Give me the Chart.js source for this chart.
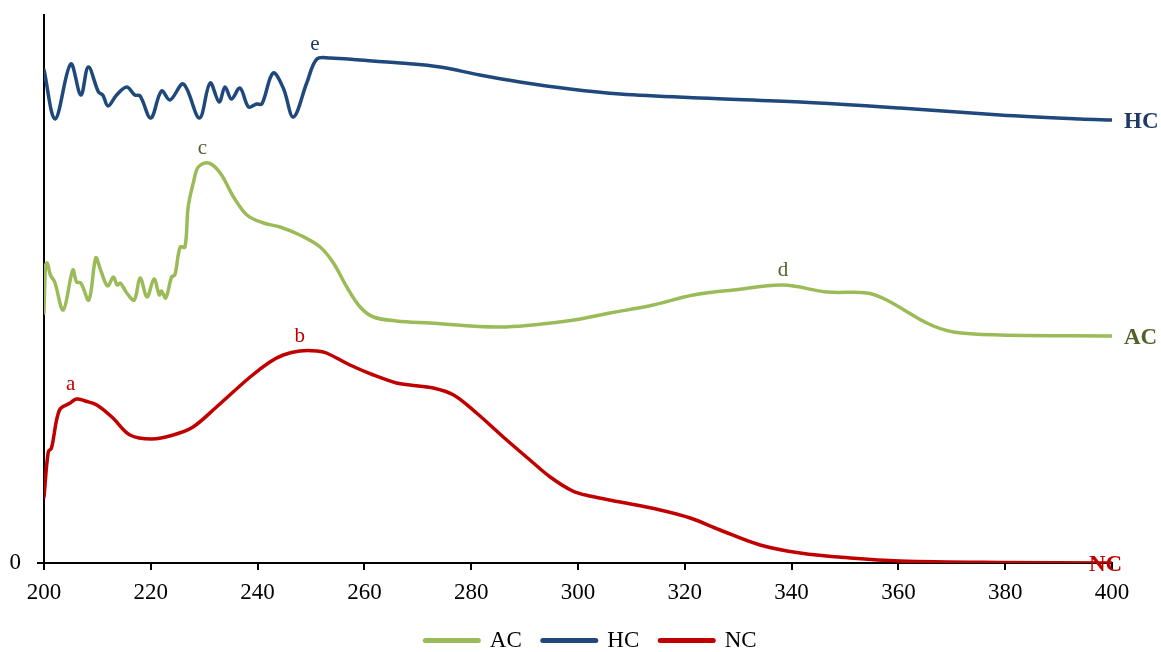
<!DOCTYPE html>
<html>
<head>
<meta charset="utf-8">
<script src="https://cdn.jsdelivr.net/npm/chart.js@4/dist/chart.umd.min.js"></script>
<style>
  html, body { margin: 0; padding: 0; background: #fff; }
  #wrap { width: 1161px; height: 652px; position: relative; }
</style>
</head>
<body>
<div id="wrap"><canvas id="chart"></canvas></div>
<script>
// wavelength (nm) and absorbance (arbitrary units)
const acX = [200, 200.3, 200.6, 201.2, 202, 203.6, 205.4, 206.1, 206.9, 208.4, 209.7, 210.6, 211.9, 213, 213.7, 214.3, 215.5, 216.9, 218, 219.3, 220.6, 221.6, 222, 222.8, 223.9, 224.5, 225.5, 226.4, 227, 228, 228.9, 230.8, 233, 235.5, 238, 241.1, 244.2, 247.9, 251.7, 254.2, 256.7, 259.2, 261.7, 266, 272.3, 285.4, 297.9, 306, 314.1, 321.6, 329.1, 338.4, 346.6, 354.1, 357.8, 365.3, 370.3, 379, 400];
const acY = [2.5, 2.98, 3.0, 2.88, 2.81, 2.53, 2.93, 2.81, 2.8, 2.63, 3.05, 2.93, 2.77, 2.86, 2.78, 2.8, 2.7, 2.63, 2.85, 2.66, 2.84, 2.68, 2.72, 2.65, 2.86, 2.88, 3.16, 3.16, 3.56, 3.81, 3.96, 4.0, 3.9, 3.66, 3.48, 3.4, 3.36, 3.28, 3.16, 3.0, 2.76, 2.56, 2.46, 2.42, 2.4, 2.36, 2.42, 2.5, 2.58, 2.68, 2.73, 2.78, 2.71, 2.7, 2.63, 2.4, 2.31, 2.28, 2.27];

const hcX = [200, 202.1, 205, 206.9, 208.3, 210.2, 211, 212, 213.6, 215.5, 217, 218, 220, 222, 223.6, 226.1, 229.1, 231.1, 232.8, 233.9, 235.1, 236.7, 238.3, 239.8, 240.8, 242.9, 244.8, 246.7, 249.2, 251.1, 253.6, 259.2, 266.7, 274.2, 281.6, 289.1, 298.5, 307.9, 322.8, 341.6, 360.3, 379, 394, 400];
const hcY = [4.93, 4.44, 4.99, 4.68, 4.96, 4.71, 4.68, 4.57, 4.68, 4.76, 4.68, 4.67, 4.45, 4.72, 4.63, 4.79, 4.45, 4.8, 4.61, 4.76, 4.64, 4.75, 4.56, 4.59, 4.59, 4.9, 4.75, 4.46, 4.8, 5.04, 5.05, 5.03, 5.0, 4.96, 4.88, 4.81, 4.74, 4.69, 4.65, 4.61, 4.55, 4.48, 4.44, 4.43];

const ncX = [200, 200.8, 201.4, 202.9, 204.9, 206.1, 207.7, 209.9, 212.9, 216.1, 220.2, 224.2, 227.9, 232.3, 238.6, 242.3, 244.8, 247.9, 251.1, 252.9, 257.3, 261.7, 266, 268.5, 272.9, 276.7, 281, 286, 291, 294.8, 299, 302.2, 307.9, 315.4, 321, 326.6, 334.1, 341.6, 351, 360.3, 379, 400];
const ncY = [0.66, 1.11, 1.15, 1.53, 1.6, 1.64, 1.62, 1.58, 1.45, 1.28, 1.24, 1.28, 1.36, 1.56, 1.86, 2.01, 2.08, 2.12, 2.12, 2.1, 1.98, 1.88, 1.8, 1.78, 1.75, 1.68, 1.5, 1.26, 1.03, 0.86, 0.72, 0.67, 0.61, 0.53, 0.45, 0.33, 0.18, 0.1, 0.05, 0.02, 0.005, 0];

const xTicks = [200, 220, 240, 260, 280, 300, 320, 340, 360, 380, 400];

// peak letters: text, series, wavelength of the point they sit over
const peakNotes = [
  { text: 'a', series: 'NC', at: 206.1, dx: -6 },
  { text: 'b', series: 'NC', at: 247.9, dx: 0 },
  { text: 'c', series: 'AC', at: 230.8, dx: -6 },
  { text: 'd', series: 'AC', at: 338.4, dx: 0 },
  { text: 'e', series: 'HC', at: 251.1, dx: -2 }
];

const FONT = '"Liberation Serif", "Times New Roman", serif';
const colAC = '#9BBB59', colHC = '#1F497D', colNC = '#C00000';
const noteColor = { AC: '#4F6228', HC: '#1F3864', NC: '#C00000' };

function pts(xs, ys) { return xs.map((x, i) => ({ x: x, y: ys[i] })); }

const notesPlugin = {
  id: 'notes',
  afterLayout(chart) {
    // legend in the reference sits a bit right of centre
    const l = chart.legend;
    l.left += 35; l.right += 35;
  },
  afterDatasetsDraw(chart) {
    const c = chart.ctx, xs = chart.scales.x, ys = chart.scales.y;
    c.save();
    c.textAlign = 'center';
    c.textBaseline = 'bottom';
    c.font = '21px ' + FONT;
    peakNotes.forEach(n => {
      const ds = chart.data.datasets.find(d => d.label === n.series);
      const p = ds.data.find(q => q.x === n.at);
      c.fillStyle = noteColor[n.series];
      c.fillText(n.text, xs.getPixelForValue(p.x) + n.dx, ys.getPixelForValue(p.y) - 4);
    });
    // series names at the right end of each curve
    c.font = 'bold 23px ' + FONT;
    c.textBaseline = 'middle';
    c.textAlign = 'left';
    chart.data.datasets.forEach(ds => {
      const last = ds.data[ds.data.length - 1];
      let px = xs.getPixelForValue(last.x) + 12;
      if (ds.label === 'NC') px -= 35;
      c.fillStyle = noteColor[ds.label];
      c.fillText(ds.label, px, ys.getPixelForValue(last.y) + 2);
    });
    c.restore();
  }
};

const ctx = document.getElementById('chart');

const config = {
  type: 'line',
  data: {
    datasets: [
      { label: 'AC', data: pts(acX, acY), borderColor: colAC, backgroundColor: colAC },
      { label: 'HC', data: pts(hcX, hcY), borderColor: colHC, backgroundColor: colHC },
      { label: 'NC', data: pts(ncX, ncY), borderColor: colNC, backgroundColor: colNC }
    ]
  },
  options: {
    responsive: false,
    animation: false,
    layout: { padding: { top: 15, right: 49, bottom: -10, left: 0 } },
    elements: {
      line: { borderWidth: 3.5, tension: 0.35, borderCapStyle: 'round', borderJoinStyle: 'round' },
      point: { radius: 0 }
    },
    plugins: {
      legend: {
        position: 'bottom',
        labels: {
          color: '#000',
          font: { family: FONT, size: 23 },
          usePointStyle: true,
          pointStyle: 'line',
          pointStyleWidth: 53,
          padding: 21,
          generateLabels(chart) {
            return chart.data.datasets.map((d, i) => ({
              text: d.label, strokeStyle: d.borderColor, fillStyle: d.borderColor,
              lineWidth: 5, pointStyle: 'line', datasetIndex: i, fontColor: '#000',
              lineCap: 'round'
            }));
          }
        }
      },
      tooltip: { enabled: false }
    },
    scales: {
      x: {
        type: 'linear',
        min: 200, max: 400,
        afterBuildTicks(s) { s.ticks = xTicks.map(v => ({ value: v })); },
        afterFit(s) { s.height = 45; },
        border: { color: '#000', width: 2 },
        grid: { display: true, drawOnChartArea: false, drawTicks: true, tickLength: 7, color: '#000', lineWidth: 2 },
        ticks: { color: '#000', font: { family: FONT, size: 23 }, padding: 9, maxRotation: 0 }
      },
      y: {
        min: 0, max: 5.48,
        afterBuildTicks(s) { s.ticks = [{ value: 0 }]; },
        afterFit(s) { s.width = 44; s.paddingTop = 0; },
        border: { color: '#000', width: 2 },
        grid: { display: true, drawOnChartArea: false, drawTicks: true, tickLength: 7, color: '#000', lineWidth: 2 },
        ticks: { color: '#000', font: { family: FONT, size: 23 }, padding: 16, callback: v => v === 0 ? '0' : '' }
      }
    }
  },
  plugins: [notesPlugin]
};

ctx.width = 1161;
ctx.height = 652;
const chart = new Chart(ctx, config);
</script>
</body>
</html>
